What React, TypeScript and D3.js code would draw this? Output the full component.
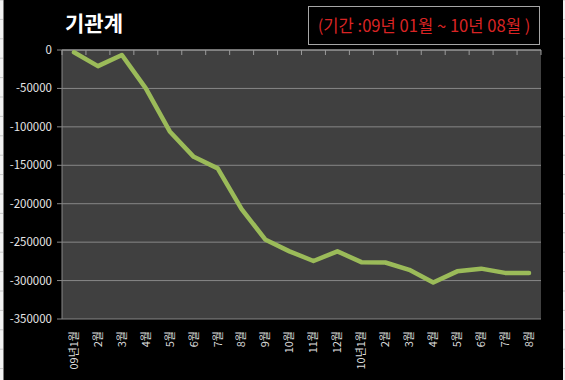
import React from "react";
import * as d3 from "d3";

const categories = [
  "09년1월", "2월", "3월", "4월", "5월", "6월", "7월", "8월", "9월", "10월",
  "11월", "12월", "10년1월", "2월", "3월", "4월", "5월", "6월", "7월", "8월",
];
const values = [
  -3000, -21000, -6500, -50000, -106000, -139000, -154000, -207000, -247000, -262000,
  -274500, -262000, -276000, -276500, -286000, -302500, -288000, -284500, -290000, -290000,
];
const yTicks = [0, -50000, -100000, -150000, -200000, -250000, -300000, -350000];
const title = "기관계";
const periodNote = "(기간 :09년 01월 ~ 10년 08월 )";

const W = 565;
const H = 380;
const M = { left: 62, right: 541, top: 50, bottom: 319 };
const FONT = "'Noto Sans CJK KR', 'Malgun Gothic', sans-serif";

export default function App() {
  const idx = categories.map((_, i) => String(i));
  const x = d3.scaleBand<string>().domain(idx).range([M.left, M.right]).paddingInner(0).paddingOuter(0);
  const y = d3.scaleLinear().domain([-350000, 0]).range([M.bottom, M.top]);
  const line = d3
    .line<number>()
    .x((_, i) => (x(String(i)) as number) + x.bandwidth() / 2)
    .y((d) => y(d));
  const boundaries = d3.range(categories.length + 1).map((k) => M.left + k * x.bandwidth());
  const sheetLines = d3.range(0, H, 19.4);

  return (
    <svg
      width={W}
      height={H}
      style={{ position: "absolute", left: 0, top: 0, display: "block" }}
      fontFamily={FONT}
    >
      <rect x={0} y={0} width={W} height={H} fill="#000" />
      {/* spreadsheet edges */}
      <rect x={0} y={0} width={3.5} height={H} fill="#f2f2f2" />
      <rect x={563} y={0} width={2} height={H} fill="#f2f2f2" />
      {sheetLines.map((v, i) => (
        <g key={"sl" + i}>
          <line x1={0} x2={3} y1={v} y2={v} stroke="#c8c8c8" />
          <line x1={563} x2={565} y1={v} y2={v} stroke="#c8c8c8" />
        </g>
      ))}

      {/* title */}
      <text x={65} y={31} fill="#fff" fontSize={21} fontWeight="bold">
        {title}
      </text>
      {/* period box */}
      <rect x={308.5} y={6.5} width={231} height={38} fill="#000" stroke="#a6a6a6" strokeWidth={1} />
      <text x={424} y={32} fill="#d92424" fontSize={16.6} textAnchor="middle">
        {periodNote}
      </text>

      {/* plot area */}
      <rect x={M.left} y={M.top} width={M.right - M.left} height={M.bottom - M.top} fill="#404040" />
      {yTicks.map((t) => (
        <line
          key={"g" + t}
          x1={M.left}
          x2={M.right}
          y1={y(t)}
          y2={y(t)}
          stroke={t === 0 ? "#9a9a9a" : "#878787"}
          strokeWidth={t === 0 ? 1.5 : 1}
        />
      ))}
      {/* y axis */}
      <line x1={M.left} x2={M.left} y1={M.top} y2={M.bottom} stroke="#878787" />
      {yTicks.map((t) => (
        <g key={"yt" + t}>
          <line x1={M.left - 5} x2={M.left} y1={y(t)} y2={y(t)} stroke="#878787" />
          <text
            x={M.left - 10}
            y={y(t)}
            dy="0.35em"
            textAnchor="end"
            fill="#e6e6e6"
            fontSize={11.5}
          >
            {t}
          </text>
        </g>
      ))}
      {/* x axis ticks at zero line */}
      {boundaries.map((b, i) => (
        <line key={"xt" + i} x1={b} x2={b} y1={M.top} y2={M.top + 5} stroke="#9a9a9a" />
      ))}

      {/* series */}
      <path
        d={line(values) || ""}
        fill="none"
        stroke="#9bbb59"
        strokeWidth={4.5}
        strokeLinejoin="round"
        strokeLinecap="round"
      />

      {/* x labels */}
      {categories.map((c, i) => {
        const cx = (x(String(i)) as number) + x.bandwidth() / 2;
        return (
          <text
            key={"xl" + i}
            transform={`translate(${cx},${M.bottom + 12}) rotate(-90)`}
            dy="0.35em"
            textAnchor="end"
            fill="#dcdcdc"
            fontSize={11}
          >
            {c}
          </text>
        );
      })}
    </svg>
  );
}
